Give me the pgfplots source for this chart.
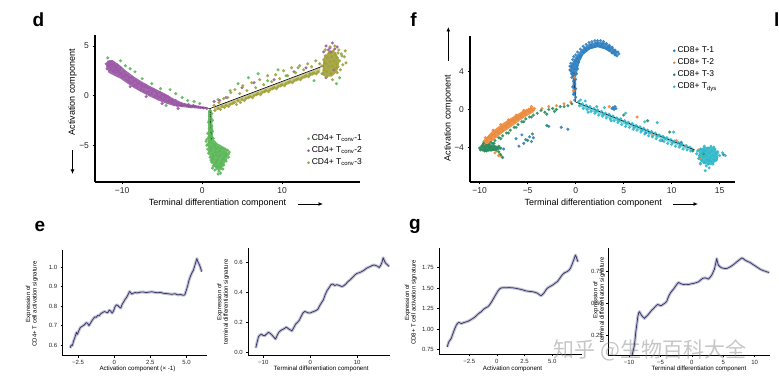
\documentclass[border=0pt]{standalone}
\usepackage{pgfplots}
\pgfplotsset{compat=1.18}
\usepackage{pgfplotstable}
\usetikzlibrary{arrows.meta}
\usepackage{fontspec}
\setmainfont{Liberation Sans}
\newfontfamily\cjk{Noto Sans CJK SC}

\definecolor{dgreen}{HTML}{5DB75A}
\definecolor{dpurple}{HTML}{9B59A6}
\definecolor{dolive}{HTML}{A0A03A}
\definecolor{fblue}{HTML}{2E7EBF}
\definecolor{forange}{HTML}{EC8B3D}
\definecolor{fgreen}{HTML}{2A8C5E}
\definecolor{fcyan}{HTML}{2EB8C9}
\definecolor{navy}{HTML}{35356F}
\definecolor{ribbon}{HTML}{C3C3D3}

\pgfplotsset{
  scat/.style={only marks, mark=*, mark size=1.7pt, mark options={draw opacity=0, fill opacity=0.9}},
  core/.style={draw=none, fill opacity=0.9, forget plot},
  topax/.style={scale only axis, axis x line*=bottom, axis y line*=left,
    axis line style={-, line width=1.2pt}, tick align=outside, major tick length=2.5pt,
    tick style={line width=0.8pt, black},
    ticklabel style={font=\fontsize{8.5}{10}\selectfont, text=black!85},
    legend cell align=left,
    legend image code/.code={\fill[##1] (0.3em,0pt) circle (1.1pt);},
    legend style={draw=none, fill=none, font=\fontsize{8.5}{10}\selectfont, row sep=0.6pt, inner sep=0pt}},
  botax/.style={scale only axis, axis x line*=bottom, axis y line*=left,
    axis line style={-, line width=0.7pt}, tick align=outside, major tick length=2pt,
    tick style={line width=0.6pt, black},
    ticklabel style={font=\fontsize{6}{7}\selectfont, text=black!85},
    xticklabel style={yshift=0.5pt}},
  rib/.style={ribbon, line width=3pt, line join=round},
  crv/.style={navy, line width=0.75pt, line join=round},
}
\tikzset{arr/.style={line width=0.9pt, -{Latex[length=4.5pt, width=4pt]}}}

\pgfplotstableread{
x y
-3.05 0.585
-2.98 0.600
-2.90 0.598
-2.82 0.620
-2.72 0.640
-2.62 0.665
-2.55 0.655
-2.45 0.675
-2.35 0.690
-2.25 0.695
-2.15 0.700
-2.05 0.705
-1.95 0.715
-1.85 0.712
-1.75 0.700
-1.65 0.712
-1.55 0.725
-1.45 0.735
-1.35 0.745
-1.25 0.742
-1.15 0.752
-1.05 0.750
-0.95 0.760
-0.85 0.765
-0.75 0.770
-0.65 0.772
-0.55 0.768
-0.45 0.766
-0.35 0.780
-0.25 0.775
-0.15 0.764
-0.05 0.775
0.05 0.797
0.15 0.807
0.25 0.803
0.35 0.795
0.45 0.790
0.55 0.810
0.65 0.822
0.75 0.835
0.85 0.845
0.95 0.858
1.05 0.875
1.12 0.872
1.20 0.862
1.30 0.866
1.45 0.870
1.60 0.868
1.80 0.872
2.00 0.873
2.20 0.870
2.40 0.872
2.60 0.874
2.80 0.871
3.00 0.869
3.20 0.871
3.40 0.866
3.60 0.865
3.80 0.863
4.00 0.861
4.20 0.864
4.40 0.858
4.60 0.860
4.75 0.856
4.88 0.858
4.98 0.880
5.08 0.905
5.18 0.935
5.28 0.955
5.38 0.972
5.48 0.985
5.58 1.010
5.66 1.030
5.72 1.045
5.78 1.030
5.85 1.020
5.92 1.008
5.98 0.995
6.05 0.978
}\eL

\pgfplotstableread{
x y
-11.6 0.030
-11.3 0.070
-11.0 0.105
-10.7 0.115
-10.4 0.120
-10.1 0.113
-9.7 0.110
-9.3 0.122
-8.9 0.133
-8.5 0.125
-8.1 0.113
-7.7 0.098
-7.4 0.088
-7.0 0.115
-6.7 0.133
-6.3 0.145
-5.9 0.152
-5.5 0.158
-5.1 0.168
-4.7 0.158
-4.3 0.150
-3.9 0.142
-3.5 0.165
-3.1 0.188
-2.7 0.200
-2.3 0.215
-2.0 0.235
-1.6 0.260
-1.2 0.272
-0.8 0.268
-0.4 0.262
0.0 0.262
0.4 0.268
0.8 0.272
1.2 0.278
1.6 0.285
2.0 0.310
2.4 0.330
2.8 0.350
3.2 0.385
3.6 0.412
4.0 0.430
4.4 0.450
4.8 0.455
5.2 0.445
5.6 0.450
6.0 0.448
6.4 0.442
6.8 0.438
7.2 0.445
7.6 0.455
8.0 0.470
8.4 0.480
8.8 0.492
9.2 0.505
9.6 0.518
10.0 0.526
10.4 0.530
10.8 0.535
11.2 0.542
11.6 0.550
12.0 0.560
12.4 0.566
12.8 0.572
13.2 0.578
13.6 0.582
14.0 0.578
14.4 0.572
14.7 0.565
15.0 0.578
15.3 0.600
15.55 0.630
15.8 0.610
16.1 0.592
16.4 0.585
16.8 0.572
}\eR

\pgfplotstableread{
x y
-4.48 0.780
-4.40 0.820
-4.33 0.845
-4.22 0.865
-4.12 0.885
-4.02 0.925
-3.91 0.966
-3.80 1.005
-3.67 1.045
-3.55 1.070
-3.43 1.080
-3.30 1.072
-3.20 1.066
-3.05 1.075
-2.90 1.082
-2.75 1.088
-2.60 1.095
-2.45 1.105
-2.30 1.118
-2.15 1.130
-2.00 1.145
-1.87 1.160
-1.72 1.180
-1.57 1.198
-1.42 1.210
-1.27 1.232
-1.12 1.250
-0.97 1.262
-0.81 1.272
-0.66 1.295
-0.51 1.325
-0.36 1.360
-0.21 1.395
-0.06 1.430
0.09 1.464
0.24 1.490
0.39 1.503
0.60 1.506
0.84 1.505
1.10 1.507
1.44 1.504
1.75 1.497
2.04 1.489
2.35 1.478
2.64 1.466
2.95 1.460
3.24 1.456
3.50 1.447
3.69 1.436
3.85 1.418
3.99 1.407
4.14 1.425
4.29 1.448
4.44 1.480
4.59 1.503
4.80 1.520
5.04 1.538
5.25 1.560
5.50 1.585
5.70 1.625
5.89 1.660
6.10 1.688
6.31 1.700
6.50 1.718
6.65 1.745
6.80 1.795
6.95 1.850
7.09 1.905
7.18 1.880
7.24 1.850
7.33 1.823
}\gL

\pgfplotstableread{
x y
-9.50 0.100
-9.30 0.140
-9.14 0.177
-9.00 0.240
-8.92 0.281
-8.75 0.340
-8.60 0.399
-8.45 0.430
-8.35 0.438
-8.20 0.425
-7.97 0.406
-7.75 0.395
-7.54 0.385
-7.30 0.398
-7.01 0.411
-6.70 0.430
-6.37 0.450
-6.10 0.462
-5.84 0.476
-5.60 0.488
-5.42 0.494
-5.15 0.488
-4.89 0.484
-4.60 0.494
-4.36 0.502
-4.15 0.510
-3.98 0.520
-3.80 0.545
-3.61 0.567
-3.40 0.585
-3.19 0.598
-2.90 0.615
-2.66 0.632
-2.40 0.650
-2.13 0.666
-1.75 0.656
-1.33 0.650
-0.90 0.652
-0.54 0.650
-0.15 0.655
0.26 0.658
0.65 0.664
1.06 0.671
1.40 0.685
1.69 0.697
2.11 0.702
2.40 0.698
2.64 0.692
2.90 0.706
3.17 0.723
3.40 0.748
3.60 0.770
3.80 0.815
3.97 0.853
4.10 0.822
4.24 0.801
4.50 0.788
4.77 0.780
5.15 0.776
5.57 0.775
5.95 0.784
6.37 0.796
6.75 0.810
7.16 0.827
7.55 0.842
7.96 0.858
8.20 0.852
8.49 0.840
8.90 0.830
9.29 0.822
9.70 0.808
10.08 0.796
10.50 0.782
10.88 0.770
11.30 0.760
11.68 0.754
12.00 0.748
12.32 0.744
}\gR

\begin{document}
\begin{tikzpicture}
\path[use as bounding box] (0pt,0pt) rectangle (779pt,-382pt);

% ---------------- panel d ----------------
\begin{axis}[topax, at={(95pt,-182pt)}, anchor=south west, width=265pt, height=147pt,
  xmin=-13.4, xmax=19.75, ymin=-8.7, ymax=6.1,
  xtick={-10,0,10}, xticklabels={−10,0,10},
  ytick={-5,0,5}, yticklabels={−5,0,5},
  legend style={at={(0.80,0.335)}, anchor=north west}]
% dense cores
\addplot[core, fill=dgreen] coordinates {(0.75,-1.5)(1.25,-1.5)(1.35,-4.3)(1.9,-4.8)(2.8,-5.2)(3.2,-5.6)(3.2,-6.3)(2.7,-7.0)(2.3,-7.5)(1.8,-7.5)(1.3,-6.9)(0.9,-6.0)(0.7,-5.0)(0.75,-4.2)};
\addplot[core, fill=dpurple] coordinates {(-11.9,3.5)(-11.3,3.6)(-10.5,3.2)(-9.5,2.5)(-8.5,1.9)(-7.5,1.4)(-6.5,0.95)(-5.5,0.55)(-4.5,0.15)(-3.5,-0.35)(-2.5,-0.7)(-1.5,-0.9)(0.5,-1.15)(0.5,-1.35)(-1.5,-1.25)(-2.5,-1.15)(-3.5,-1.05)(-4.5,-0.8)(-5.5,-0.5)(-6.5,-0.1)(-7.5,0.3)(-8.5,0.75)(-9.5,1.3)(-10.2,1.7)(-11.0,2.0)(-11.7,2.3)(-12.0,2.9)};
\addplot[core, fill=dolive, fill opacity=0.55] coordinates {(1.5,-1.15)(14.8,2.85)(14.8,2.3)(1.5,-1.55)};
\addplot[core, fill=dolive] coordinates {(15.0,2.1)(15.2,3.8)(15.9,4.5)(16.7,4.4)(17.2,3.5)(16.9,2.4)(16.2,1.9)(15.4,1.9)};
\addplot[scat, color=dgreen] coordinates {
(1.0,-1.5)(1.2,-1.8)(0.9,-2.0)(1.1,-2.3)(1.3,-2.5)(0.8,-2.7)(1.0,-2.9)(1.2,-3.1)(0.9,-3.3)(1.1,-3.5)(1.3,-3.6)(0.7,-3.8)(1.0,-3.9)(1.2,-4.1)(0.8,-4.2)(1.4,-4.3)(0.6,-4.4)(1.1,-4.5)
(0.5,-4.6)(0.9,-4.7)(1.3,-4.8)(1.7,-4.9)(0.6,-5.0)(1.0,-5.1)(1.5,-5.0)(2.0,-5.2)(2.5,-5.3)(2.9,-5.4)(3.2,-5.5)(0.7,-5.4)(1.2,-5.5)(1.7,-5.4)(2.2,-5.6)(2.7,-5.7)(3.1,-5.9)(3.4,-5.7)
(0.8,-5.8)(1.3,-5.9)(1.8,-6.0)(2.3,-6.0)(2.8,-6.1)(3.3,-6.2)(1.0,-6.2)(1.5,-6.4)(2.0,-6.3)(2.5,-6.5)(3.0,-6.6)(1.2,-6.7)(1.7,-6.8)(2.2,-6.9)(2.7,-7.0)(1.4,-7.1)(1.9,-7.2)(2.4,-7.3)
(1.6,-7.5)(2.1,-7.6)(2.6,-7.4)(2.0,-7.9)(1.1,-5.3)(1.9,-5.7)(2.6,-6.3)(1.4,-6.1)(0.9,-5.6)(1.6,-5.2)(2.3,-5.4)(3.0,-6.0)(1.1,-6.5)(1.8,-6.6)(2.4,-6.7)(1.3,-7.3)(2.3,-7.8)
(0.7,-4.9)(1.2,-5.2)(1.8,-5.3)(2.4,-5.9)(2.9,-5.8)(3.3,-5.9)(1.6,-5.7)(2.1,-6.1)(2.7,-6.4)(1.3,-6.3)(1.9,-6.5)(2.2,-7.1)(1.7,-7.0)(2.5,-6.9)(1.0,-4.0)(1.2,-3.4)(0.9,-2.5)
(-11.8,3.8)(-10.2,3.5)(-9.6,3.0)(-9.0,2.7)(-8.4,2.4)(-7.5,1.7)(-6.3,1.2)(-4.0,0.6)(-3.3,0.2)(-2.5,-0.2)(-1.8,-0.5)(-1.0,-0.6)(-0.3,-0.8)(-5.2,0.7)(-4.5,-1.0)
(2.0,-0.4)(3.5,0.5)(4.5,1.2)(5.8,1.8)(7.0,2.2)(8.2,1.5)(9.5,2.6)(10.5,2.0)(12.0,2.8)(13.5,2.2)(14.0,1.5)(17.5,4.0)(17.2,1.8)(16.8,1.2)(15.0,2.2)
};
\addlegendentry{CD4+ T\textsubscript{conv}-1}
\addplot[scat, color=dpurple] coordinates {
(-11.7,3.2)(-11.6,2.9)(-11.5,3.3)(-11.4,2.7)(-11.3,3.1)(-11.2,2.5)(-11.1,2.9)(-11.0,3.2)(-10.9,2.6)(-10.8,2.3)(-10.7,2.8)(-10.6,3.0)(-10.5,2.4)(-10.4,2.1)(-10.3,2.6)(-10.2,2.8)(-10.1,2.2)(-10.0,1.9)
(-11.5,2.6)(-11.2,3.4)(-10.9,3.0)(-10.6,2.6)(-10.3,2.3)(-11.0,2.4)(-11.8,3.0)(-11.4,3.0)(-10.8,2.7)(-11.6,3.4)(-12.0,3.2)(-11.9,2.7)
(-9.8,2.4)(-9.7,1.9)(-9.6,2.1)(-9.5,1.6)(-9.3,2.0)(-9.2,1.5)(-9.1,1.8)(-9.0,1.3)(-8.8,1.8)(-8.7,1.3)(-8.6,1.5)(-8.5,1.0)(-8.3,1.5)(-8.2,1.1)(-8.1,0.8)(-8.0,1.3)
(-7.8,1.2)(-7.7,0.6)(-7.6,0.9)(-7.5,1.1)(-7.3,0.5)(-7.2,0.9)(-7.1,1.0)(-7.0,0.3)(-6.8,0.8)(-6.7,0.4)(-6.6,0.1)(-6.5,0.7)(-6.3,0.2)(-6.2,0.5)(-6.1,0.6)(-6.0,-0.1)
(-5.8,0.4)(-5.7,0.0)(-5.6,0.2)(-5.5,-0.2)(-5.3,0.3)(-5.2,-0.1)(-5.1,-0.3)(-5.0,0.1)(-4.8,-0.4)(-4.7,0.0)(-4.6,-0.2)(-4.5,-0.5)(-4.3,-0.1)(-4.2,-0.6)(-4.1,-0.3)(-4.0,-0.5)
(-3.8,-0.7)(-3.7,-0.4)(-3.6,-0.6)(-3.5,-0.9)(-3.3,-0.5)(-3.2,-0.8)(-3.1,-1.0)(-3.0,-0.7)(-2.8,-0.9)(-2.6,-0.8)(-2.4,-1.0)(-2.2,-0.9)
(-2.0,-1.0)(-1.7,-0.9)(-1.4,-1.1)(-1.1,-1.0)(-0.8,-1.1)(-0.5,-1.15)(-0.2,-1.2)(0.2,-1.25)(0.6,-1.3)
(-9.0,0.9)(-7.0,-0.1)(-5.0,-0.8)(-3.0,-1.3)
(15.5,5.0)(16.0,4.8)(16.3,5.3)(15.8,4.6)(16.6,4.7)(15.2,4.4)(16.9,4.9)(16.1,4.4)(15.5,1.8)(16.5,2.6)
(3.0,-0.2)(5.0,0.8)(6.5,1.3)(9.0,1.6)(11.5,2.4)(13.0,2.8)(1.5,-0.6)(2.2,-0.5)
};
\addlegendentry{CD4+ T\textsubscript{conv}-2}
\addplot[scat, color=dolive] coordinates {
(1.5,-1.0)(1.6,-1.5)(2.0,-1.3)(2.1,-0.7)(2.3,-1.4)(2.5,-1.1)(2.7,-0.3)(2.8,-1.2)(3.0,-1.0)(3.2,-0.2)(3.3,-1.1)(3.5,-0.9)(3.6,0.3)(3.8,-0.8)
(4.0,-0.7)(4.1,0.6)(4.3,-0.9)(4.5,-0.5)(4.7,0.2)(4.8,-0.7)(5.0,-0.4)(5.1,1.0)(5.3,-0.5)(5.5,-0.3)(5.6,0.5)(5.8,-0.2)(6.0,-0.1)(6.2,1.3)(6.3,-0.2)
(6.5,0.0)(6.7,0.8)(6.8,0.1)(7.0,0.2)(7.2,1.6)(7.3,0.1)(7.5,0.3)(7.7,1.1)(7.8,0.4)(8.0,0.5)(8.2,2.0)(8.3,0.4)(8.5,0.6)(8.7,1.4)(8.8,0.7)
(9.0,0.8)(9.2,2.1)(9.3,0.7)(9.5,0.9)(9.7,1.7)(9.8,1.0)(10.0,1.1)(10.2,2.5)(10.3,1.0)(10.5,1.2)(10.7,2.0)(10.8,1.3)(11.0,1.4)(11.2,2.8)(11.3,1.3)
(11.5,1.5)(11.7,2.3)(11.8,1.6)(12.0,1.7)(12.2,3.0)(12.3,1.6)(12.5,1.8)(12.7,2.6)(12.8,1.9)(13.0,2.0)(13.2,3.2)(13.3,1.9)(13.5,2.1)(13.7,2.9)(13.8,2.2)
(14.0,2.3)(14.2,3.5)(14.3,2.2)(14.5,2.4)(14.7,3.2)
(15.0,3.0)(15.2,3.6)(15.3,2.6)(15.4,4.0)(15.5,3.2)(15.6,2.4)(15.7,3.8)(15.8,2.9)(15.9,4.3)(16.0,3.4)(16.1,2.2)(16.2,3.9)(16.3,3.0)(16.4,4.5)(16.5,3.5)
(16.6,2.7)(16.7,4.1)(16.8,3.2)(16.9,3.8)(17.0,2.9)(17.2,3.5)(17.4,4.2)(17.6,3.1)(17.8,3.9)(15.1,2.2)(15.6,1.9)(16.3,1.6)(16.9,2.3)(17.3,2.6)(15.4,4.6)
(16.0,4.9)(16.6,5.0)(17.1,4.6)(17.9,4.5)(18.0,3.3)(15.3,3.3)(17.0,4.3)(16.8,2.8)
};
\addlegendentry{CD4+ T\textsubscript{conv}-3}
\addplot[black, line width=0.6pt, forget plot] coordinates {(15.2,3.0)(1.0,-1.3)(1.15,-4.5)};
\addplot[black, line width=0.5pt, forget plot] coordinates {(1.0,-1.3)(-2.75,-0.95)};
\end{axis}

% ---------------- panel f ----------------
\begin{axis}[topax, at={(470pt,-182pt)}, anchor=south west, width=265pt, height=146pt,
  xmin=-11.0, xmax=16.6, ymin=-7.7, ymax=7.8,
  xtick={-10,-5,0,5,10,15}, xticklabels={−10,−5,0,5,10,15},
  ytick={-4,0,4}, yticklabels={−4,0,4},
  legend style={at={(0.765,0.94)}, anchor=north west}]
\addplot[core, fill=fblue] coordinates {(-0.3,1.5)(0.05,1.5)(0.05,3.5)(0.4,5.0)(0.8,5.8)(1.5,6.4)(2.3,6.6)(3.0,6.4)(3.7,6.0)(4.2,5.7)(4.4,6.1)(3.8,6.6)(3.0,7.1)(2.2,7.2)(1.4,6.95)(0.6,6.35)(0.0,5.6)(-0.55,4.6)(-0.55,3.8)(-0.3,3.4)};
\addplot[core, fill=forange] coordinates {(-9.7,-3.4)(-8.8,-2.4)(-7.5,-1.4)(-6.5,-0.75)(-5.5,-0.15)(-4.4,0.25)(-4.4,-0.3)(-5.5,-0.95)(-6.5,-1.7)(-7.5,-2.4)(-8.5,-3.2)(-9.4,-3.85)};
\addplot[core, fill=fcyan, fill opacity=0.6] coordinates {(0.2,0.8)(12.3,-4.1)(12.3,-4.5)(0.5,0.3)};
\addplot[scat, color=fblue] coordinates {
(-0.1,1.0)(0.0,1.3)(-0.2,1.6)(-0.1,1.9)(0.0,2.2)(-0.3,2.4)(-0.1,2.7)(-0.2,3.0)(0.0,3.2)(-0.4,3.4)(-0.2,3.6)(-0.3,3.9)(0.1,3.8)(-0.5,4.1)
(-0.6,4.2)(-0.4,4.5)(-0.2,4.8)(0.0,5.1)(0.2,5.4)(-0.5,4.9)(-0.3,5.3)(0.1,4.6)(0.3,5.0)(-0.6,4.6)(-0.1,4.3)(0.4,5.6)(-0.4,3.8)(0.2,4.3)(-0.2,5.6)(0.0,5.8)
(0.2,6.1)(0.5,5.7)(0.5,6.4)(0.8,6.1)(0.8,6.7)(1.1,6.3)(1.1,6.9)(1.4,6.5)(1.4,7.1)(1.7,6.6)(1.7,7.2)(2.0,6.7)(2.0,7.3)(2.3,6.8)(2.3,7.3)(2.6,6.7)(2.6,7.3)
(2.9,6.6)(2.9,7.2)(3.2,6.5)(3.2,7.0)(3.5,6.3)(3.5,6.8)(3.8,6.0)(3.8,6.6)(4.1,5.8)(4.1,6.3)(4.3,5.7)(4.4,6.1)(4.5,5.9)(1.0,6.5)(1.6,6.85)(2.2,7.05)(2.8,6.95)(3.4,6.6)(4.0,6.1)
(3.9,0.2)(4.0,0.0)(4.1,0.3)(3.8,0.1)(4.2,0.1)
(-5.6,-2.7)(-5.2,-3.2)(-4.8,-2.9)(-5.4,-3.6)(-4.6,-3.4)(-5.9,-3.9)(-4.4,-3.0)(-2.8,-1.8)(-1.5,-1.9)(-0.8,-2.1)(-7.5,-4.2)(-6.2,-3.1)
(9.0,-3.3)(7.3,-2.5)(11.0,-3.5)(15.4,-4.8)
};
\addlegendentry{CD8+ T-1}
\addplot[scat, color=forange] coordinates {
(-9.6,-3.7)(-9.5,-3.4)(-9.2,-3.4)(-9.1,-3.0)(-9.3,-3.2)(-8.8,-3.1)(-8.7,-2.7)(-8.9,-2.9)(-8.4,-2.8)(-8.3,-2.4)(-8.5,-2.6)(-8.0,-2.5)(-7.9,-2.1)(-8.1,-2.3)
(-7.6,-2.2)(-7.5,-1.8)(-7.7,-2.0)(-7.2,-1.9)(-7.1,-1.5)(-7.3,-1.7)(-6.8,-1.6)(-6.7,-1.2)(-6.9,-1.4)(-6.4,-1.3)(-6.3,-0.9)(-6.5,-1.1)
(-6.0,-1.0)(-5.9,-0.7)(-6.1,-0.8)(-5.6,-0.8)(-5.5,-0.4)(-5.7,-0.6)(-5.2,-0.5)(-5.1,-0.1)(-5.3,-0.3)(-4.8,-0.2)(-4.7,0.1)(-4.9,0.0)(-4.4,-0.1)(-4.3,0.1)
(-9.4,-3.0)(-8.6,-2.2)(-7.8,-1.6)(-7.0,-1.1)(-6.2,-0.6)(-5.4,-0.1)(-4.6,0.3)
(-3.5,0.1)(-2.8,0.3)(-2.0,0.4)(-1.2,0.6)(-0.5,0.8)
(-8.2,-4.4)(-7.9,-4.7)(-7.7,-5.0)(-8.4,-4.6)(-8.0,-4.9)
(8.0,-2.8)(10.5,-3.3)(11.5,-3.9)(12.8,-4.3)(13.0,-5.8)(12.9,-5.2)(6.4,-0.8)(3.5,0.3)(-0.2,2.0)(-0.1,3.4)
};
\addlegendentry{CD8+ T-2}
\addplot[core, fill=fgreen] coordinates {(-10.1,-4.2)(-9.6,-3.65)(-8.8,-3.7)(-8.0,-3.9)(-7.7,-4.2)(-8.5,-4.4)(-9.4,-4.5)};
\addplot[scat, color=fgreen] coordinates {
(-10.0,-4.1)(-9.8,-3.9)(-9.7,-4.3)(-9.5,-4.0)(-9.4,-4.2)(-9.2,-3.9)(-9.1,-4.3)(-8.9,-4.1)(-8.7,-3.9)(-8.6,-4.2)(-8.4,-4.0)(-8.2,-4.1)(-8.0,-3.9)(-9.6,-3.6)
(-9.0,-3.7)(-8.5,-3.6)(-9.3,-4.4)(-8.8,-4.3)(-9.9,-4.3)(-7.8,-4.1)(-9.5,-4.4)(-9.0,-4.0)(-8.3,-4.3)(-9.7,-3.8)
(-8.8,-3.5)(-8.4,-3.3)(-8.0,-3.0)(-7.6,-2.8)(-7.2,-2.5)(-6.8,-2.2)(-6.4,-1.9)(-6.0,-1.6)(-5.6,-1.3)(-5.2,-1.0)(-4.8,-0.8)(-4.4,-0.6)
(-8.6,-3.6)(-7.8,-3.1)(-7.0,-2.5)(-6.2,-1.9)(-5.4,-1.3)(-4.6,-0.8)
(-4.0,-0.4)(-3.6,-0.1)(-3.2,-0.3)(-2.8,0.0)(-2.4,0.1)(-2.0,0.0)(-1.6,0.3)(-1.2,0.3)(-0.8,0.4)(-0.4,0.6)(-3.0,-0.5)(-2.2,-0.2)
(-8.0,-4.5)(-7.8,-4.8)(-7.6,-5.1)(-5.0,-3.3)(-4.5,-2.6)(-3.0,-1.7)
(5.0,-0.6)(7.5,-1.2)(9.8,-2.4)(12.2,-4.4)(13.3,-4.7)
};
\addlegendentry{CD8+ T-3}
\addplot[core, fill=fcyan] coordinates {(12.8,-4.3)(13.4,-3.95)(14.3,-4.0)(14.9,-4.6)(14.8,-5.4)(14.1,-5.9)(13.3,-5.8)(12.8,-5.1)};
\addplot[scat, color=fcyan] coordinates {
(0.3,0.8)(0.4,0.4)(0.7,0.6)(0.8,0.1)(1.1,0.45)(1.2,0.0)(1.3,-0.3)(1.5,0.3)(1.6,-0.2)(1.9,0.1)(2.0,-0.4)(2.1,-0.2)(2.3,-0.05)(2.4,-0.6)(2.7,-0.2)(2.8,-0.7)(2.9,-0.5)
(3.1,-0.4)(3.2,-0.9)(3.5,-0.5)(3.6,-1.0)(3.7,-1.2)(3.9,-0.7)(4.0,-1.2)(4.3,-0.9)(4.4,-1.4)(4.5,-1.2)(4.7,-1.0)(4.8,-1.6)(5.1,-1.2)(5.2,-1.8)(5.3,-1.5)
(5.5,-1.35)(5.6,-1.9)(5.9,-1.5)(6.0,-2.1)(6.1,-1.9)(6.3,-1.7)(6.4,-2.2)(6.7,-1.85)(6.8,-2.4)(6.9,-2.2)(7.1,-2.0)(7.2,-2.6)(7.5,-2.2)(7.6,-2.8)(7.7,-2.5)
(7.9,-2.35)(8.0,-2.9)(8.3,-2.5)(8.4,-3.1)(8.5,-2.8)(8.7,-2.7)(8.8,-3.3)(9.1,-2.85)(9.2,-3.4)(9.3,-3.1)(9.5,-3.0)(9.6,-3.6)(9.9,-3.2)(10.0,-3.7)(10.1,-3.5)
(10.3,-3.35)(10.4,-3.9)(10.7,-3.5)(10.8,-4.0)(10.9,-3.8)(11.1,-3.7)(11.2,-4.2)(11.5,-3.85)(11.6,-4.3)(11.9,-4.0)(12.0,-4.4)
(1.0,0.9)(2.2,0.3)(3.0,0.2)(0.5,1.0)(8.5,-1.4)(7.2,-1.3)(5.2,-0.4)(10.2,-2.4)
(12.7,-4.4)(12.9,-4.9)(13.0,-4.2)(13.1,-5.4)(13.2,-4.6)(13.3,-5.0)(13.4,-3.9)(13.4,-5.6)(13.5,-4.4)(13.6,-4.9)(13.7,-5.3)(13.8,-4.1)(13.8,-5.8)(13.9,-4.6)
(14.0,-5.1)(14.1,-3.9)(14.1,-5.5)(14.2,-4.4)(14.3,-4.9)(14.4,-5.3)(14.5,-4.2)(14.6,-4.7)(14.7,-5.1)(14.8,-4.5)(15.0,-4.9)(13.0,-5.7)(13.6,-6.0)(14.3,-5.8)
(12.8,-5.2)(13.3,-4.3)(13.9,-5.4)(14.4,-4.0)(15.3,-4.6)(13.5,-6.5)(15.6,-4.9)(12.6,-4.7)(14.6,-5.4)(13.9,-6.2)
};
\addlegendentry{CD8+ T\textsubscript{dys}}
\addplot[black, line width=0.6pt, forget plot] coordinates {(12.4,-4.3)(0.0,0.8)(-0.2,4.0)};
\end{axis}

% ---------------- panel e left ----------------
\begin{axis}[botax, at={(62.7pt,-355.7pt)}, anchor=south west, width=144pt, height=105.7pt,
  xmin=-3.57, xmax=6.4, ymin=0.545, ymax=1.089,
  xtick={-2.5,0,2.5,5}, xticklabels={−2.5,0,2.5,5.0},
  ytick={0.6,0.7,0.8,0.9,1.0}, yticklabels={0.6,0.7,0.8,0.9,1.0}]
\addplot[rib] table {\eL};
\addplot[crv] table {\eL};
\end{axis}

% ---------------- panel e right ----------------
\begin{axis}[botax, at={(248.3pt,-355.7pt)}, anchor=south west, width=141.7pt, height=107.4pt,
  xmin=-13.2, xmax=17.0, ymin=-0.023, ymax=0.693,
  xtick={-10,0,10}, xticklabels={−10,0,10},
  ytick={0,0.2,0.4,0.6}, yticklabels={0.0,0.2,0.4,0.6}]
\addplot[rib] table {\eR};
\addplot[crv] table {\eR};
\end{axis}

% ---------------- panel g left ----------------
\begin{axis}[botax, at={(439.3pt,-354.3pt)}, anchor=south west, width=142.4pt, height=106pt,
  xmin=-5.2, xmax=7.66, ymin=0.69, ymax=1.988,
  xtick={-2.5,0,2.5,5}, xticklabels={−2.5,0,2.5,5.0},
  ytick={0.75,1,1.25,1.5,1.75}, yticklabels={0.75,1.00,1.25,1.50,1.75}]
\addplot[rib] table {\gL};
\addplot[crv] table {\gL};
\end{axis}

% ---------------- panel g right ----------------
\begin{axis}[botax, at={(608.3pt,-355pt)}, anchor=south west, width=161.7pt, height=106.7pt,
  xmin=-13.3, xmax=12.45, ymin=0.099, ymax=0.933,
  xtick={-10,-5,0,5,10}, xticklabels={−10,−5,0,5,10},
  ytick={0.25,0.5,0.75}, yticklabels={0.25,0.50,0.75}]
\addplot[rib] table {\gR};
\addplot[crv] table {\gR};
\end{axis}

% ---------------- labels ----------------
\begin{scope}[every node/.style={inner sep=0pt}]
\node[font=\bfseries\fontsize{19}{19}\selectfont] at (38.5pt,-20pt) {d};
\node[font=\bfseries\fontsize{19}{19}\selectfont] at (413.5pt,-20pt) {f};
\node[font=\bfseries\fontsize{19}{19}\selectfont] at (40pt,-226pt) {e};
\node[font=\bfseries\fontsize{19}{19}\selectfont] at (415pt,-226pt) {g};
\node[font=\bfseries\fontsize{19}{19}\selectfont, anchor=west] at (774pt,-20pt) {l};

\node[font=\fontsize{9}{10}\selectfont] at (217.5pt,-203pt) {Terminal differentiation component};
\draw[arr] (298pt,-204pt) -- (323pt,-204pt);
\node[font=\fontsize{9}{10}\selectfont, rotate=90] at (72.5pt,-92pt) {Activation component};
\draw[arr] (72.5pt,-150pt) -- (72.5pt,-174pt);

\node[font=\fontsize{9}{10}\selectfont] at (593.3pt,-203pt) {Terminal differentiation component};
\draw[arr] (673pt,-204pt) -- (698pt,-204pt);
\node[font=\fontsize{9}{10}\selectfont, rotate=90] at (448.3pt,-118pt) {Activation component};
\draw[arr] (448.3pt,-61pt) -- (448.3pt,-27pt);

\node[font=\fontsize{6.2}{7}\selectfont] at (137.5pt,-369pt) {Activation component (× -1)};
\node[font=\fontsize{6.2}{7}\selectfont] at (321.3pt,-369pt) {Terminal differentiation component};
\node[font=\fontsize{6.2}{7}\selectfont] at (512.5pt,-369pt) {Activation component};
\node[font=\fontsize{6.2}{7}\selectfont] at (699pt,-369pt) {Terminal differentiation component};

\node[font=\fontsize{6}{6.5}\selectfont, rotate=90, align=center] at (31.7pt,-304pt) {Expression of\\CD4+ T cell activation signature};
\node[font=\fontsize{6}{6.5}\selectfont, rotate=90, align=center] at (223pt,-302pt) {Expression of\\terminal differentiation signature};
\node[font=\fontsize{6}{6.5}\selectfont, rotate=90, align=center] at (410.8pt,-302.5pt) {Expression of\\CD8+ T cell activation signature};
\node[font=\fontsize{6}{6.5}\selectfont, rotate=90, align=center] at (599pt,-300pt) {Expression of\\terminal differentiation signature};

\node[font=\cjk\fontsize{21}{21}\selectfont, text=gray, opacity=0.45] at (650pt,-350pt) {知乎 @生物百科大全};
\end{scope}
\end{tikzpicture}
\end{document}
